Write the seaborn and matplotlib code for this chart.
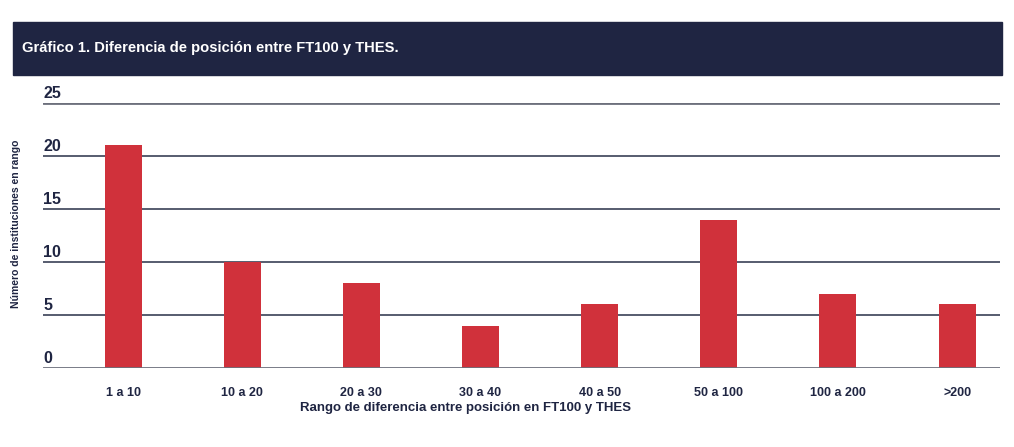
import pandas as pd
import matplotlib.pyplot as plt
import seaborn as sns
from matplotlib.patches import Rectangle
from matplotlib import font_manager

# data
categorias = ['1 a 10', '10 a 20', '20 a 30', '30 a 40', '40 a 50', '50 a 100', '100 a 200', '>200']
instituciones = [21, 10, 8, 4, 6, 14, 7, 6]
y_ticks = [0, 5, 10, 15, 20, 25]

df = pd.DataFrame({'rango': categorias, 'n': instituciones})

sns.set_style('white')
names = {f.name for f in font_manager.fontManager.ttflist}
fam = 'Liberation Sans Narrow' if 'Liberation Sans Narrow' in names else 'Liberation Sans'
plt.rcParams['font.family'] = [fam, 'DejaVu Sans']
plt.rcParams['font.weight'] = 'bold'

navy = '#1f2542'
rojo = '#d0313b'

fig = plt.figure(figsize=(10.14, 4.47), dpi=100)
W, H = 1014, 447

# header band
fig.patches.append(Rectangle((13 / W, 1 - 75 / H), 989 / W, 53 / H,
                             transform=fig.transFigure, color=navy, zorder=0))
fig.text(22 / W, 1 - 48 / H, 'Gráfico 1. Diferencia de posición entre FT100 y THES.',
         color='white', fontsize=10.6, fontweight='bold', va='center', ha='left')

ax = fig.add_axes([43 / W, 1 - 368 / H, 957 / W, 265 / H])
sns.barplot(data=df, x='rango', y='n', color=rojo, width=0.31, saturation=1,
            linewidth=0, ax=ax, zorder=3)

ax.set_ylim(0, 25)
ax.set_xlim(-0.672, 7.36)
for v in y_ticks:
    edge = v in (0, 25)
    ax.axhline(v, color='#6d707c' if edge else '#283048', lw=2.0 if edge else 1.1,
               zorder=4 if edge else 2)
    ax.text(0, v + 0.45, str(v), transform=ax.get_yaxis_transform(), ha='left', va='baseline',
            fontsize=11.5, fontweight='bold', color=navy)

ax.set_yticks([])
ax.tick_params(axis='x', length=0, pad=14, labelsize=9, labelcolor=navy)
for t in ax.get_xticklabels():
    t.set_fontweight('bold')
sns.despine(ax=ax, left=True, bottom=True)
ax.set_xlabel('Rango de diferencia entre posición en FT100 y THES', fontsize=9.5,
              fontweight='bold', color=navy)
ax.xaxis.set_label_coords((465 - 43) / 957, -0.13)
ax.set_ylabel('')
fig.text(16 / W, 1 - 224 / H, 'Número de instituciones en rango', rotation=90,
         fontsize=7.5, fontweight='bold', color=navy, ha='center', va='center')

fig.savefig('out.png', dpi=100)
